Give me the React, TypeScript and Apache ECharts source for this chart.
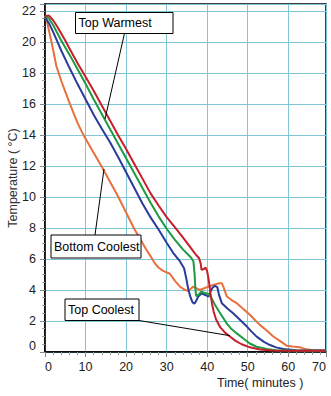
import React, { useEffect, useRef } from 'react';
import * as echarts from 'echarts';

const xTickLabels = ['0', '10', '20', '30', '40', '50', '60', '70'];
const yTickLabels = ['0', '2', '4', '6', '8', '10', '12', '14', '16', '18', '20', '22'];

const topWarmest: [number, number][] = [
  [0, 21.7], [1, 21.7], [2, 21.4], [3, 21.0], [4, 20.55], [5, 20.1], [6, 19.6], [8, 18.65], [10, 17.75], [12, 16.85],
  [14, 15.9], [16, 14.95], [18, 14.0], [20, 13.1], [22, 12.15], [24, 11.2], [26, 10.25], [28, 9.45], [30, 8.7], [32, 8.05],
  [34, 7.4], [36, 6.7], [37, 6.35], [38, 6.05], [38.4, 5.7], [38.6, 5.3], [39.2, 5.35], [39.6, 5.45], [40, 5.2], [40.4, 4.6],
  [40.8, 3.8], [41.2, 3.1], [41.6, 2.6], [42.2, 2.1], [43.2, 1.6], [44.4, 1.25], [45.6, 1.0], [47, 0.72], [48.5, 0.5],
  [50.5, 0.3], [53, 0.16], [56, 0.1], [62, 0.08], [69.3, 0.08],
];

const topMiddle: [number, number][] = [
  [0, 21.7], [1, 21.5], [2, 21.1], [3, 20.6], [4, 20.1], [6, 19.2], [8, 18.25], [10, 17.3], [12, 16.3], [14, 15.35],
  [16, 14.4], [18, 13.45], [20, 12.5], [22, 11.55], [24, 10.6], [26, 9.65], [28, 8.75], [30, 7.95], [32, 7.25], [34, 6.62],
  [36, 6.1], [36.6, 5.85], [36.9, 5.0], [37.1, 4.0], [37.3, 3.6], [37.8, 3.68], [38.6, 3.9], [39.5, 3.8], [40.3, 3.75],
  [41.1, 3.45], [41.9, 3.05], [43.2, 2.5], [44.8, 1.85], [46, 1.48], [47.3, 1.2], [49, 0.85], [50.5, 0.55], [52.2, 0.34],
  [54.7, 0.2], [57, 0.12], [62, 0.1], [69.3, 0.08],
];

const topCoolest: [number, number][] = [
  [0, 21.6], [1, 21.2], [2, 20.65], [3, 20.05], [4, 19.45], [6, 18.35], [8, 17.3], [10, 16.3], [12, 15.3], [14, 14.4],
  [16, 13.55], [18, 12.6], [20, 11.6], [22, 10.6], [24, 9.6], [26, 8.7], [28, 7.9], [30, 7.05], [31.6, 6.4], [33.3, 5.84],
  [34.3, 5.4], [34.8, 4.8], [35.3, 4.1], [35.8, 3.6], [36.3, 3.25], [36.7, 3.12], [37.1, 3.2], [37.8, 3.58], [38.6, 3.78],
  [39.5, 3.68], [40.3, 3.58], [40.8, 3.9], [41.3, 4.15], [41.9, 4.27], [42.5, 4.18], [42.9, 3.7], [43.6, 3.15], [45, 2.8],
  [46.4, 2.5], [48, 2.1], [49.8, 1.64], [51, 1.3], [52.2, 0.99], [54, 0.65], [55.5, 0.45], [57, 0.3], [58.8, 0.19],
  [62, 0.12], [69.3, 0.1],
];

const bottomCoolest: [number, number][] = [
  [0, 21.7], [0.5, 21.3], [1, 20.7], [1.6, 20.0], [2, 19.5], [2.8, 18.45], [4, 17.5], [5, 16.8], [6, 16.1], [7, 15.45],
  [8, 14.8], [9, 14.25], [10, 13.75], [12, 12.85], [14, 11.95], [16, 11.0], [18, 10.05], [20, 9.0], [22, 7.95], [24, 7.05],
  [25, 6.6], [26, 6.2], [27, 5.75], [28, 5.45], [29, 5.25], [30.8, 5.05], [32, 4.6], [33.3, 4.22], [34.5, 4.0], [35.3, 3.95],
  [36, 4.1], [36.6, 4.22], [37.4, 4.1], [38.2, 4.0], [39.9, 4.18], [41.5, 4.33], [43, 4.44], [43.6, 4.44], [44, 4.2],
  [44.8, 3.6], [46, 3.35], [47.3, 3.15], [49, 2.75], [50.6, 2.39], [52, 2.0], [53, 1.75], [54.6, 1.4], [56.3, 1.0],
  [58, 0.7], [59.6, 0.41], [61, 0.35], [62.9, 0.3], [64.5, 0.17], [66, 0.12], [69.3, 0.1],
];

const FONT = '"Liberation Sans", Arial, sans-serif';

export default function App() {
  const ref = useRef<HTMLDivElement>(null);

  useEffect(() => {
    if (!ref.current) return;
    const chart = echarts.init(ref.current, null, { renderer: 'svg' });

    const mk = (name: string, data: [number, number][], color: string) => ({
      type: 'line',
      name,
      data,
      symbol: 'none',
      showSymbol: false,
      smooth: false,
      lineStyle: { color, width: 2 },
      itemStyle: { color },
      z: 3,
    });

    const box = (x: number, y: number, w: number, h: number, label: string) => [
      {
        type: 'rect',
        shape: { x, y, width: w, height: h },
        style: { fill: '#fff', stroke: '#000', lineWidth: 1 },
        z: 100,
      },
      {
        type: 'text',
        x: x + 3,
        y: y + h / 2,
        style: {
          text: label,
          fill: '#000',
          font: `12.5px ${FONT}`,
          textVerticalAlign: 'middle',
          verticalAlign: 'middle',
        },
        z: 101,
      },
    ];

    const leader = (x1: number, y1: number, x2: number, y2: number) => ({
      type: 'line',
      shape: { x1, y1, x2, y2 },
      style: { stroke: '#000', lineWidth: 1 },
      z: 99,
    });

    chart.setOption({
      animation: false,
      backgroundColor: '#fff',
      grid: {
        left: 45,
        top: 4,
        right: 5,
        bottom: 44,
        containLabel: false,
        outerBoundsMode: 'none',
        show: true,
        borderColor: '#000',
        borderWidth: 1.5,
        backgroundColor: '#fff',
      },
      xAxis: {
        type: 'value',
        min: 0,
        max: 69.3,
        interval: 10,
        axisLine: { show: true, onZero: false, lineStyle: { color: '#000', width: 1.5 } },
        axisTick: { show: true, length: 5, lineStyle: { color: '#888' } },
        minorTick: { show: true, splitNumber: 5, length: 3, lineStyle: { color: '#999' } },
        splitLine: { show: true, lineStyle: { color: '#80c6d6', width: 1 } },
        axisLabel: {
          color: '#222',
          fontSize: 12.5,
          fontFamily: FONT,
          margin: 8,
          alignMinLabel: 'left',
          alignMaxLabel: 'right',
          formatter: (v: number) => {
            const i = Math.round(v / 10);
            return Math.abs(v - i * 10) < 1e-6 ? xTickLabels[i] : xTickLabels[xTickLabels.length - 1];
          },
        },
      },
      yAxis: {
        type: 'value',
        min: 0,
        max: 22.45,
        interval: 2,
        axisLine: { show: true, onZero: false, lineStyle: { color: '#000', width: 1.5 } },
        axisTick: { show: true, length: 5, lineStyle: { color: '#888' } },
        minorTick: { show: true, splitNumber: 4, length: 3, lineStyle: { color: '#999' } },
        splitLine: { show: true, lineStyle: { color: '#80c6d6', width: 1 } },
        axisLabel: {
          color: '#222',
          fontSize: 12.5,
          fontFamily: FONT,
          margin: 9,
          verticalAlignMinLabel: 'bottom',
          formatter: (v: number) => {
            const i = Math.round(v / 2);
            return Math.abs(v - i * 2) < 1e-6 && yTickLabels[i] !== undefined ? yTickLabels[i] : '';
          },
        },
        name: 'Temperature ( °C)',
        nameLocation: 'middle',
        nameGap: 26,
        nameMoveOverlap: false,
        nameTextStyle: { color: '#333', fontSize: 12.5, fontFamily: FONT },
      },
      series: [
        mk('Bottom Coolest', bottomCoolest, '#e8703e'),
        mk('Top Coolest', topCoolest, '#2a3c98'),
        mk('Top Middle', topMiddle, '#1f9a40'),
        mk('Top Warmest', topWarmest, '#c81e2a'),
      ],
      graphic: [
        leader(124.5, 33.3, 105, 119),
        leader(95, 235, 104, 169),
        leader(139, 320.5, 230, 335.7),
        ...box(75.5, 12.5, 97.5, 21, 'Top Warmest'),
        ...box(51, 235, 90, 23, 'Bottom Coolest'),
        ...box(65, 299, 74, 21.5, 'Top Coolest'),
        {
          type: 'text',
          x: 217,
          y: 383,
          style: {
            text: 'Time( minutes )',
            fill: '#222',
            font: `12.5px ${FONT}`,
            verticalAlign: 'middle',
            textVerticalAlign: 'middle',
          },
          z: 101,
        },
      ],
    });

    return () => chart.dispose();
  }, []);

  return <div ref={ref} style={{ position: 'fixed', left: 0, top: 0, width: 331, height: 396 }} />;
}
